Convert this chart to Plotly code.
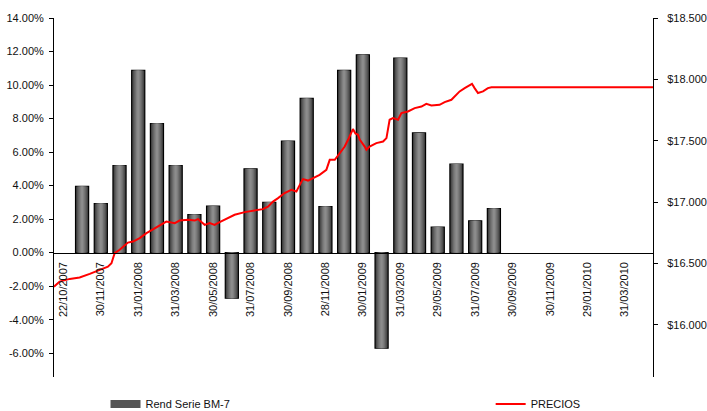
import plotly.graph_objects as go

# ---------------- data ----------------
categories = ["22/10/2007", "31/10/2007", "30/11/2007", "31/12/2007", "31/01/2008", "29/02/2008",
              "31/03/2008", "30/04/2008", "30/05/2008", "30/06/2008", "31/07/2008", "29/08/2008",
              "30/09/2008", "31/10/2008", "28/11/2008", "31/12/2008", "30/01/2009", "27/02/2009",
              "31/03/2009", "30/04/2009", "29/05/2009", "30/06/2009", "31/07/2009", "31/08/2009",
              "30/09/2009", "30/10/2009", "30/11/2009", "31/12/2009", "29/01/2010", "26/02/2010",
              "31/03/2010", "30/04/2010"]

rend = [None, 3.95, 2.93, 5.20, 10.87, 7.70, 5.20, 2.27, 2.77, -2.72, 5.00, 3.00, 6.65, 9.20,
        2.75, 10.87, 11.80, -5.70, 11.60, 7.14, 1.52, 5.29, 1.90, 2.63,
        None, None, None, None, None, None, None, None]

# price series: time in months elapsed since 22/10/2007, value in $
price_t = [0.00, 0.30, 0.84, 1.37, 1.91, 2.44, 2.88, 3.07, 3.24, 3.51, 3.95, 4.22, 4.58, 4.94,
           5.29, 5.74, 6.00, 6.45, 6.71, 7.16, 7.52, 7.69, 7.87, 8.05, 8.32, 8.58, 8.85, 9.29,
           9.65, 10.19, 10.72, 11.16, 11.43, 11.70, 11.97, 12.32, 12.68, 12.95, 13.13, 13.30,
           13.57, 13.84, 14.19, 14.55, 14.73, 15.00, 15.26, 15.53, 15.71, 15.89, 15.97, 16.10,
           16.24, 16.33, 16.42, 16.60, 16.69, 16.86, 17.22, 17.58, 17.76, 17.93, 18.11, 18.38,
           18.56, 18.91, 19.27, 19.63, 19.89, 20.16, 20.60, 20.87, 21.23, 21.40, 21.67, 21.94,
           22.21, 22.33, 22.47, 22.65, 22.92, 23.18, 23.37, 32.00]
price = [16312, 16353, 16375, 16386, 16416, 16449, 16475, 16503, 16585, 16612, 16671, 16679,
         16707, 16748, 16780, 16823, 16842, 16829, 16850, 16856, 16850, 16862, 16842, 16815,
         16829, 16815, 16837, 16870, 16897, 16919, 16932, 16943, 16964, 17005, 17033, 17074,
         17100, 17087, 17141, 17188, 17176, 17196, 17223, 17263, 17345, 17345, 17400, 17453,
         17508, 17576, 17595, 17560, 17549, 17510, 17494, 17453, 17427, 17453, 17481, 17494,
         17522, 17671, 17685, 17671, 17726, 17739, 17766, 17779, 17801, 17788, 17793, 17815,
         17834, 17861, 17902, 17929, 17956, 17964, 17929, 17889, 17902, 17929, 17936, 17936]

y_ticks = [-6, -4, -2, 0, 2, 4, 6, 8, 10, 12, 14]
y2_ticks = [16000, 16500, 17000, 17500, 18000, 18500]

# ---------------- styling ----------------
FONT = "Liberation Sans, Arial, sans-serif"
TXT = "#111111"
Y_RANGE = [-7.42, 14.0]
Y2_RANGE = [15576, 18500]
X_RANGE = [0, len(categories)]

W, H = 707, 411
M_T, M_B = 18, 34
zero_pos = (0 - Y_RANGE[0]) / (Y_RANGE[1] - Y_RANGE[0])
legend_y = (H - 404) / H  # container coordinates

bar_x = [i + 0.5 for i in range(len(categories))]

fig = go.Figure()

# layered bars to imitate the cylindrical gradient
layers = [(0.70, "#343434", 1.2, "#000000"),
          (0.60, "#4a4a4a", 0, None),
          (0.49, "#5d5d5d", 0, None),
          (0.37, "#6f6f6f", 0, None),
          (0.24, "#808080", 0, None),
          (0.11, "#8c8c8c", 0, None)]
for k, (w, col, lw, lc) in enumerate(layers):
    fig.add_trace(go.Bar(
        x=bar_x, y=rend, width=w, name="Rend Serie BM-7",
        marker=dict(color=col, line=dict(width=lw, color=lc or col)),
        showlegend=False, xaxis="x", yaxis="y",
    ))

# legend key for the bars (wide flat swatch like the original)
fig.add_trace(go.Scatter(
    x=[None], y=[None], name="Rend Serie BM-7", mode="lines",
    line=dict(color="#555555", width=8), legend="legend", xaxis="x", yaxis="y",
))

fig.add_trace(go.Scatter(
    x=price_t, y=price, name="PRECIOS", mode="lines",
    line=dict(color="#ff0000", width=2), xaxis="x", yaxis="y2", legend="legend2",
))

label_idx = list(range(0, len(categories), 2))
bounds = list(range(len(categories) + 1))

fig.update_layout(
    width=W, height=H,
    margin=dict(l=54, r=54, t=M_T, b=M_B),
    paper_bgcolor="white", plot_bgcolor="white",
    barmode="overlay",
    font=dict(family=FONT, size=11, color=TXT),
    xaxis=dict(range=X_RANGE, anchor="free", position=zero_pos,
               showline=True, linecolor="#000", linewidth=1,
               tickmode="array", tickvals=[i + 0.5 for i in label_idx],
               ticktext=[categories[i] for i in label_idx],
               ticks="", tickangle=-90, ticklabelstandoff=4,
               showgrid=False, zeroline=False, automargin=False,
               tickfont=dict(family=FONT, size=11, color=TXT)),
    xaxis2=dict(range=X_RANGE, overlaying="x", anchor="free", position=zero_pos,
                showline=False, tickmode="array", tickvals=bounds,
                ticks="inside", ticklen=3, tickcolor="#000",
                showticklabels=False, showgrid=False, zeroline=False),
    xaxis3=dict(range=X_RANGE, overlaying="x", anchor="free", position=zero_pos,
                showline=False, tickmode="array", tickvals=bounds,
                ticks="outside", ticklen=3, tickcolor="#000",
                showticklabels=False, showgrid=False, zeroline=False),
    yaxis=dict(range=Y_RANGE, showline=True, linecolor="#000", linewidth=1,
               tickmode="array", tickvals=y_ticks,
               ticktext=[f"{v:.2f}%" for v in y_ticks],
               ticks="outside", ticklen=4, tickcolor="#000", ticklabelstandoff=3,
               showgrid=False, zeroline=False, automargin=False),
    yaxis2=dict(range=Y2_RANGE, overlaying="y", side="right",
                showline=True, linecolor="#000", linewidth=1,
                tickmode="array", tickvals=y2_ticks,
                ticktext=["$" + f"{v:,.0f}".replace(",", ".") for v in y2_ticks],
                ticks="outside", ticklen=4, tickcolor="#000", ticklabelstandoff=7,
                showgrid=False, zeroline=False, automargin=False),
    legend=dict(orientation="h", x=0.086, xanchor="left", y=legend_y, yanchor="middle",
                yref="container",
                font=dict(family=FONT, size=11, color=TXT),
                bgcolor="rgba(0,0,0,0)", itemclick=False),
    legend2=dict(orientation="h", x=0.729, xanchor="left", y=legend_y, yanchor="middle",
                 yref="container",
                 font=dict(family=FONT, size=11, color=TXT),
                 bgcolor="rgba(0,0,0,0)", itemclick=False),
    showlegend=True,
)

fig.write_html("out.html")
